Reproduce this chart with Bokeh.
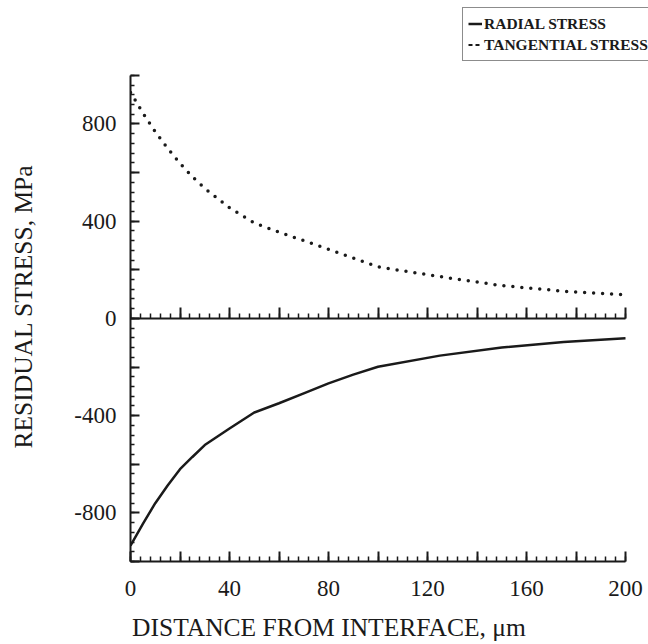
import numpy as np
from bokeh.plotting import figure
from bokeh.models import Range1d, LinearAxis, FixedTicker, Legend, LegendItem
from bokeh.embed import file_html
from bokeh.resources import INLINE

# ---- data ----
distance = [0, 5, 10, 15, 20, 25, 30, 40, 50, 60, 70, 80, 90, 100, 125, 150, 175, 200]
radial = [-935, -845, -760, -687, -620, -570, -521, -453, -387, -349, -308, -267, -231, -199, -153, -120, -97, -82]
tangential = [930, 845, 768, 700, 638, 583, 535, 455, 393, 355, 320, 284, 248, 212, 172, 135, 112, 97]

x_major = list(range(0, 201, 20))
x_minor = list(range(0, 201, 4))
x_labeled = [0, 40, 80, 120, 160, 200]
y_major = list(range(-1000, 1001, 200))
y_minor = list(range(-1000, 1001, 40))
y_labeled = [-800, -400, 0, 400, 800]

series_names = ["RADIAL STRESS", "TANGENTIAL STRESS"]
x_title = "DISTANCE FROM INTERFACE, μm"
y_title = "RESIDUAL STRESS, MPa"

FONT = "Liberation Serif"
INK = "#1a1a1a"
EM = "\u2003"    # trailing spaces shift the centred axis titles like the original
NBSP = "\u00a0"

W, H = 648, 644
LEFT, RIGHT, TOP, BOTTOM = 130, 0, 0, 82
# axes span 0..200 over 495 px and -1000..1000 over 487 px; the frame is
# extended to the right and upward so the legend can sit inside it
frame_w = W - LEFT - RIGHT
frame_h = H - TOP - BOTTOM
x_end = 200 * frame_w / 495
y_end = -1000 + 2000 * frame_h / 487

p = figure(width=W, height=H,
           x_range=Range1d(0, x_end), y_range=Range1d(-1000, y_end),
           x_axis_type=None, y_axis_type=None,
           output_backend="svg", toolbar_location=None,
           min_border_left=LEFT, min_border_right=RIGHT,
           min_border_top=TOP, min_border_bottom=BOTTOM)
p.outline_line_color = None
p.background_fill_color = "white"
p.border_fill_color = "white"


def style_axis(ax, major_in, minor_in):
    ax.axis_line_color = INK
    ax.axis_line_width = 2
    ax.major_tick_line_color = INK
    ax.major_tick_line_width = 2
    ax.minor_tick_line_color = INK
    ax.minor_tick_line_width = 1.5
    ax.major_tick_in = major_in
    ax.major_tick_out = 0
    ax.minor_tick_in = minor_in
    ax.minor_tick_out = 0
    ax.major_label_text_font = FONT
    ax.major_label_text_font_size = "23px"
    ax.major_label_text_color = INK
    ax.axis_label_text_font = FONT
    ax.axis_label_text_font_size = "25.5px"
    ax.axis_label_text_font_style = "normal"
    ax.axis_label_text_color = INK


# left axis
yaxis = LinearAxis(ticker=FixedTicker(ticks=y_major, minor_ticks=y_minor),
                   bounds=(-1000, 1000), axis_label=y_title + EM * 2,
                   major_label_overrides={v: ("" if v not in y_labeled else str(v)) for v in y_major})
style_axis(yaxis, 9, 4)
yaxis.major_label_standoff = 14
yaxis.axis_label_standoff = 33
p.add_layout(yaxis, "left")

# bottom axis
xaxis = LinearAxis(ticker=FixedTicker(ticks=x_major, minor_ticks=x_minor),
                   bounds=(0, 200), axis_label=x_title + EM * 4 + NBSP * 3,
                   major_label_overrides={v: ("" if v not in x_labeled else str(v)) for v in x_major})
style_axis(xaxis, 10, 5)
xaxis.major_label_standoff = 19
xaxis.axis_label_standoff = 14
p.add_layout(xaxis, "below")

# zero line axis
zaxis = LinearAxis(ticker=FixedTicker(ticks=x_major, minor_ticks=x_minor),
                   fixed_location=0, bounds=(0, 200),
                   major_label_overrides={v: "" for v in x_major})
style_axis(zaxis, 11, 5)
zaxis.major_label_standoff = 0
zaxis.major_label_text_font_size = "1px"
p.add_layout(zaxis, "below")

# curves
r_rad = p.line(distance, radial, line_color=INK, line_width=2.5)
p.line(distance, tangential, line_color=INK, line_width=3.5,
       line_dash="0 9", line_cap="round")

# legend proxy for the dashed legend stroke of the tangential series
leg_t = p.line([np.nan], [np.nan], line_color=INK, line_width=2, line_dash="4 3")

legend = Legend(items=[LegendItem(label=series_names[0], renderers=[r_rad]),
                       LegendItem(label=series_names[1], renderers=[leg_t])],
                location=(332, 500),
                padding=5, spacing=0, margin=0,
                glyph_width=14, glyph_height=21, label_height=21,
                label_standoff=2,
                label_text_font=FONT, label_text_font_size="15.5px",
                label_text_font_style="bold", label_text_color=INK,
                border_line_color=INK, border_line_width=1.5,
                background_fill_color="white", background_fill_alpha=1)
p.add_layout(legend, "center")

open("out.html", "w").write(file_html(p, INLINE))
